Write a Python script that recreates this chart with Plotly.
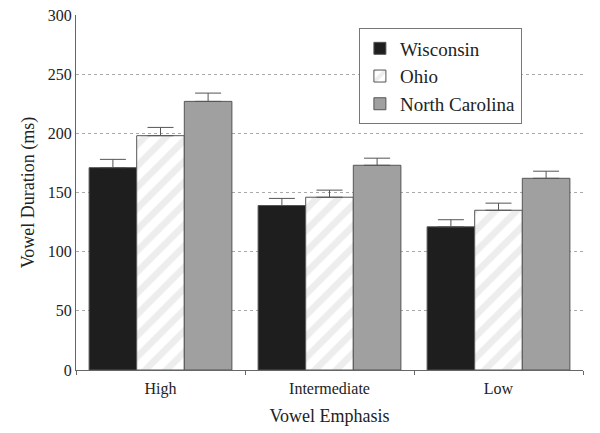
import plotly.graph_objects as go

categories = ["High", "Intermediate", "Low"]
series_names = ["Wisconsin", "Ohio", "North Carolina"]
wisconsin = [171, 139, 121]
ohio = [198, 146, 135]
north_carolina = [227, 173, 162]
wisconsin_err = [7, 6, 6]
ohio_err = [7, 6, 6]
north_carolina_err = [7, 6, 6]

font_family = "Liberation Serif"
outline = "#555555"

fig = go.Figure()
fig.add_trace(go.Bar(
    name=series_names[0], x=categories, y=wisconsin,
    marker=dict(color="#1e1e1e", line=dict(color=outline, width=1)),
    error_y=dict(type="data", array=wisconsin_err, arrayminus=[0, 0, 0], symmetric=False,
                 color="#555555", thickness=1, width=13),
))
fig.add_trace(go.Bar(
    name=series_names[1], x=categories, y=ohio,
    marker=dict(color="white", line=dict(color=outline, width=1),
                pattern=dict(shape="/", fgcolor="#dcdcdc", bgcolor="white", size=15, solidity=0.45)),
    error_y=dict(type="data", array=ohio_err, arrayminus=[0, 0, 0], symmetric=False,
                 color="#555555", thickness=1, width=13),
))
fig.add_trace(go.Bar(
    name=series_names[2], x=categories, y=north_carolina,
    marker=dict(color="#a0a0a0", line=dict(color=outline, width=1)),
    error_y=dict(type="data", array=north_carolina_err, arrayminus=[0, 0, 0], symmetric=False,
                 color="#555555", thickness=1, width=13),
))

fig.update_layout(
    width=592, height=425,
    margin=dict(l=68, r=17, t=7, b=63, autoexpand=False),
    paper_bgcolor="white", plot_bgcolor="white",
    font=dict(family=font_family, size=16, color="#222222"),
    barmode="group", bargap=0.155, bargroupgap=0,
    showlegend=True,
    legend=dict(x=0.558, y=0.962, xanchor="left", yanchor="top",
                bordercolor="#777777", borderwidth=1, bgcolor="white",
                font=dict(family=font_family, size=19, color="#222222"),
                tracegroupgap=0),
)
fig.update_xaxes(
    automargin=False,
    showline=True, linecolor="#666666", linewidth=1,
    ticks="outside", tickson="boundaries", ticklen=4, tickcolor="#666666",
    ticklabelstandoff=4,
    showgrid=False,
    title=dict(text="Vowel Emphasis", font=dict(family=font_family, size=18), standoff=12),
    tickfont=dict(family=font_family, size=16),
)
fig.update_yaxes(
    automargin=False,
    range=[0, 300], dtick=50,
    showline=True, linecolor="#666666", linewidth=1,
    ticks="", showgrid=True, gridcolor="#aaaaaa", griddash="dot", gridwidth=1,
    zeroline=False, ticklabeloverflow="allow",
    title=dict(text="Vowel Duration (ms)", font=dict(family=font_family, size=18), standoff=8),
    tickfont=dict(family=font_family, size=16),
)

fig.write_html("out.html")
